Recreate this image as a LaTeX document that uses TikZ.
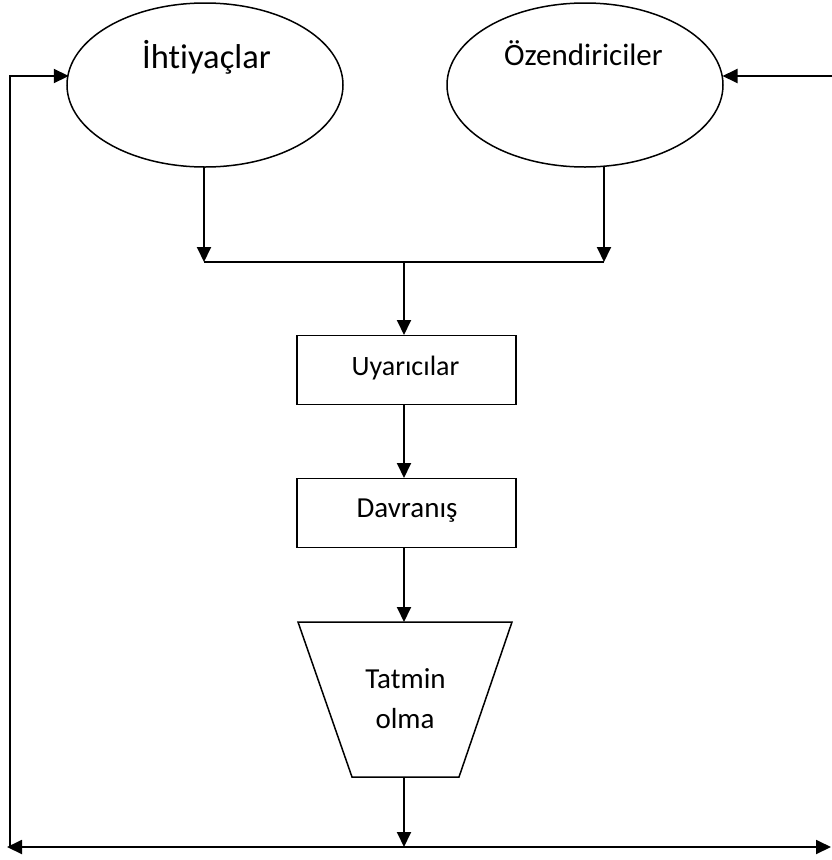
\documentclass[tikz,border=0pt]{standalone}
\usepackage{fontspec}
\setmainfont{Carlito}[Ligatures=NoCommon]
\usetikzlibrary{shapes.geometric,arrows.meta,calc}
\tikzset{
  ell/.style={draw, ellipse, line width=1.5pt, minimum width=276pt, minimum height=164pt, inner sep=0pt},
  stepbox/.style={draw, rectangle, line width=1.7pt, minimum width=219pt, minimum height=69pt, inner sep=0pt},
  conn/.style={line width=1.9pt, -{Triangle[length=15pt,width=14pt]}},
  plain/.style={line width=1.9pt},
  lbl/.style={anchor=base, inner sep=0pt},
}
\begin{document}
\begin{tikzpicture}[x=1pt,y=-1pt]
\useasboundingbox (0,0) rectangle (831,860);
% ellipses
\node[ell] (ih) at (205,85) {};
\node[ell] (oz) at (585,85) {};
\node[lbl, font=\fontsize{34.5}{38}\selectfont] (ihT) at (206.5,68) {İhtiyaçlar};
\node[lbl, font=\fontsize{31}{34}\selectfont] (ozT) at (583.5,65) {Özendiriciler};
% boxes
\node[stepbox] (uy) at (406.5,370) {};
\node[lbl, font=\fontsize{28}{32}\selectfont] (uyT) at (405.5,375) {Uyarıcılar};
\node[stepbox] (dv) at (406.5,513) {};
\node[lbl, font=\fontsize{29}{32}\selectfont] (dvT) at (407,517) {Davranış};
% trapezoid
\coordinate (tzTL) at (298,622);
\coordinate (tzTR) at (512,622);
\coordinate (tzBR) at (459,777);
\coordinate (tzBL) at (352,777);
\draw[line width=1.5pt] (tzTL) -- (tzTR) -- (tzBR) -- (tzBL) -- cycle;
\node[lbl, font=\fontsize{29}{32}\selectfont] (tzT1) at (405.5,688) {Tatmin};
\node[lbl, font=\fontsize{29}{32}\selectfont] (tzT2) at (405,728) {olma};
% connector coordinates
\coordinate (ihB) at (204,167);
\coordinate (ozB) at (604,166.2);
\coordinate (jL) at (204,262);
\coordinate (jR) at (604,262);
\coordinate (jC) at (404,262);
\coordinate (uyTop) at (404,335);
\coordinate (uyBot) at (404,404.5);
\coordinate (dvTop) at (404,478);
\coordinate (dvBot) at (404,548);
\coordinate (tzTop) at (404,622);
\coordinate (tzBot) at (404,777);
\coordinate (bC) at (404,847);
\coordinate (bL) at (10,847);
\coordinate (bLtip) at (7,847);
\coordinate (bR) at (831,847);
\coordinate (cL) at (10,76);
\coordinate (ihW) at (68.8,76);
\coordinate (rIn) at (832,76);
\coordinate (ozE) at (722.5,76);
% connectors
\draw[conn] (ihB) -- (jL);
\draw[conn] (ozB) -- (jR);
\draw[plain] (jL) -- (jR);
\draw[conn] (jC) -- (uyTop);
\draw[conn] (uyBot) -- (dvTop);
\draw[conn] (dvBot) -- (tzTop);
\draw[conn] (tzBot) -- (bC);
\draw[line width=1.9pt, {Triangle[length=15pt,width=14pt]}-{Triangle[length=15pt,width=14pt]}] (bLtip) -- (bR);
\draw[conn] (bL) -- (cL) -- (ihW);
\draw[conn] (rIn) -- (ozE);
\end{tikzpicture}
\end{document}
